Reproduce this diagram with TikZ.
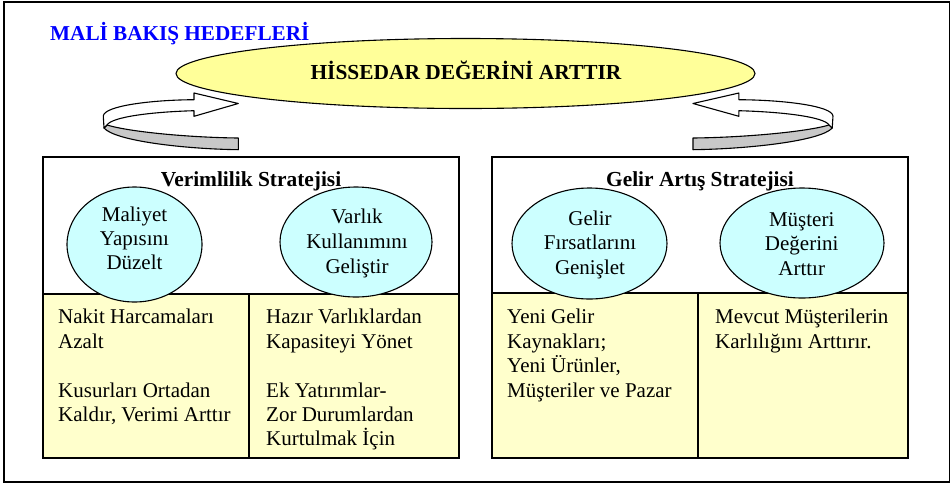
\documentclass[tikz,border=0pt]{standalone}
\usepackage{fontspec}
\setmainfont{Liberation Serif}
\usetikzlibrary{shapes.geometric}
\definecolor{ellyel}{HTML}{FFFF99}
\definecolor{boxyel}{HTML}{FFFFCC}
\definecolor{cyanfill}{HTML}{CCFFFF}
\definecolor{arrgray}{HTML}{C8C8C8}
\definecolor{titleblue}{HTML}{0000FF}
\begin{document}
\begin{tikzpicture}[x=1pt,y=-1pt,
  frame/.style={draw=black,line width=1.3pt},
  boxline/.style={draw=black,line width=1.1pt},
  oval/.style={ellipse,draw=black,line width=1.1pt,fill=cyanfill,inner sep=0pt},
  bodytxt/.style={anchor=base west,inner sep=0pt,font=\fontsize{21}{24}\selectfont},
  ctrtxt/.style={anchor=base,inner sep=0pt,font=\fontsize{21}{24}\selectfont},
  boldtxt/.style={anchor=base,inner sep=0pt,font=\fontsize{21.4}{24}\selectfont\bfseries},
  ribbon/.style={draw=black,line width=1.1pt,line join=round}
]
\useasboundingbox (0,0) rectangle (951,483);
\draw[frame] (4,2) rectangle (949.5,482);

% goal ellipse
\node[ellipse,draw=black,line width=1.1pt,fill=ellyel,inner sep=0pt,minimum width=579pt,minimum height=70pt] (goal) at (465.5,73.5) {};
\node[boldtxt] (goaltxt) at (466,79) {HİSSEDAR DEĞERİNİ ARTTIR};
\node[anchor=base west,inner sep=0pt,font=\fontsize{21.2}{24}\selectfont\bfseries,text=titleblue] (title) at (50,40) {MALİ BAKIŞ HEDEFLERİ};

% curved arrows
\draw[ribbon,fill=arrgray] (107,125) .. controls (130,132) and (190,137.5) .. (238.3,138) -- (238.3,149.7) .. controls (185,149) and (115,141) .. (104,128) -- cycle;
\draw[ribbon,fill=white] (104,128) -- (103.3,116) .. controls (104,106) and (150,100) .. (194,99.7) -- (194,93) -- (238.3,103.5) -- (194,116.3) -- (194,110.7) .. controls (150,112) and (112,117) .. (107,125) -- cycle;
\begin{scope}[shift={(940.1,0)},xscale=-1.037]
\draw[ribbon,fill=arrgray] (107,125) .. controls (130,132) and (190,137.5) .. (238.3,138) -- (238.3,149.7) .. controls (185,149) and (115,141) .. (104,128) -- cycle;
\draw[ribbon,fill=white] (104,128) -- (103.3,116) .. controls (104,106) and (150,100) .. (194,99.7) -- (194,93) -- (238.3,103.5) -- (194,116.3) -- (194,110.7) .. controls (150,112) and (112,117) .. (107,125) -- cycle;
\end{scope}

% left strategy box
\draw[boxline,fill=white] (43,157) rectangle (459,458);
\draw[boxline,fill=boxyel] (43,294) rectangle (459,458);
\draw[boxline] (249,294) -- (249,458);
% right strategy box
\draw[boxline,fill=white] (492,157) rectangle (908,458);
\draw[boxline,fill=boxyel] (492,293) rectangle (908,458);
\draw[boxline] (698,293) -- (698,458);

\node[boldtxt] (s1) at (251,186) {Verimlilik Stratejisi};
\node[boldtxt] (s2) at (700,186) {Gelir Artış Stratejisi};

\node[oval,minimum width=135pt,minimum height=115pt] (e1) at (134.5,244.5) {};
\node[oval,minimum width=152pt,minimum height=110pt] (e2) at (356,242) {};
\node[oval,minimum width=155pt,minimum height=111pt] (e3) at (589.5,243.5) {};
\node[oval,minimum width=164pt,minimum height=110pt] (e4) at (802,243) {};

\node[ctrtxt] (e1a) at (134.5,221) {Maliyet};
\node[ctrtxt] (e1b) at (134.5,245) {Yapısını};
\node[ctrtxt] (e1c) at (134.5,269) {Düzelt};
\node[ctrtxt] (e2a) at (357,223) {Varlık};
\node[ctrtxt] (e2b) at (357,248) {Kullanımını};
\node[ctrtxt] (e2c) at (357,273) {Geliştir};
\node[ctrtxt] (e3a) at (590,225) {Gelir};
\node[ctrtxt] (e3b) at (590,249) {Fırsatlarını};
\node[ctrtxt] (e3c) at (590,274) {Genişlet};
\node[ctrtxt] (e4a) at (801.7,226) {Müşteri};
\node[ctrtxt] (e4b) at (801.7,250) {Değerini};
\node[ctrtxt] (e4c) at (801.7,275) {Arttır};

\node[bodytxt] (b1a) at (58,323) {Nakit Harcamaları};
\node[bodytxt] (b1b) at (58,348) {Azalt};
\node[bodytxt] (b1c) at (58,397) {Kusurları Ortadan};
\node[bodytxt] (b1d) at (58,421) {Kaldır, Verimi Arttır};
\node[bodytxt] (b2a) at (266,323) {Hazır Varlıklardan};
\node[bodytxt] (b2b) at (266,348) {Kapasiteyi Yönet};
\node[bodytxt] (b2c) at (266,397) {Ek Yatırımlar-};
\node[bodytxt] (b2d) at (266,421) {Zor Durumlardan};
\node[bodytxt] (b2e) at (266,445) {Kurtulmak İçin};
\node[bodytxt] (b3a) at (507,323) {Yeni Gelir};
\node[bodytxt] (b3b) at (507,348) {Kaynakları;};
\node[bodytxt] (b3c) at (507,372) {Yeni Ürünler,};
\node[bodytxt] (b3d) at (507,397) {Müşteriler ve Pazar};
\node[bodytxt] (b4a) at (715,323) {Mevcut Müşterilerin};
\node[bodytxt] (b4b) at (715,348) {Karlılığını Arttırır.};
\end{tikzpicture}
\end{document}
